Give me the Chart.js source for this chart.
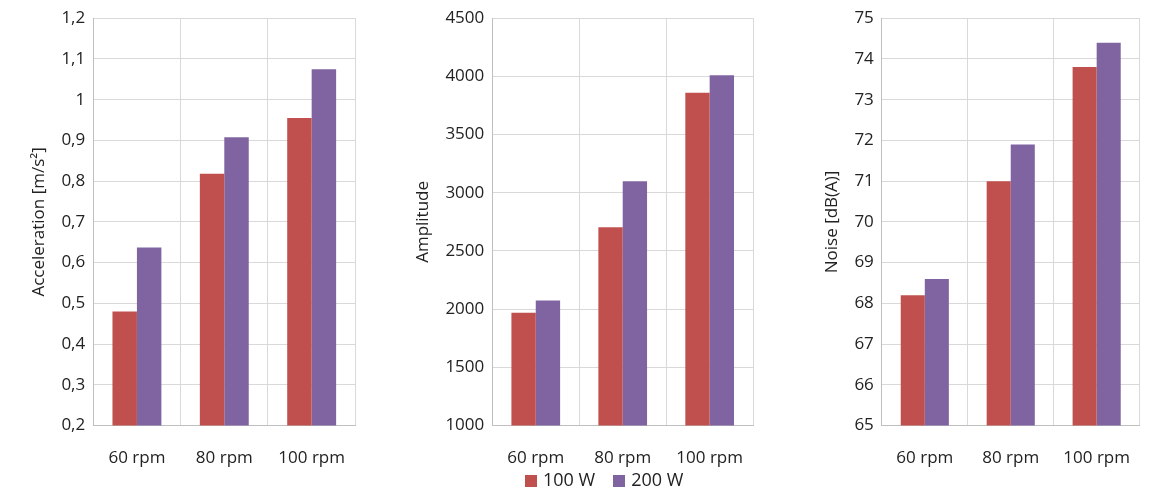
<!DOCTYPE html>
<html><head><meta charset="utf-8">
<script src="https://cdn.jsdelivr.net/npm/chart.js@4"></script>
<style>
body{margin:0;background:#fff;width:1153px;height:491px;position:relative;overflow:hidden;font-family:"Open Sans",sans-serif}
.c{position:absolute;top:0;height:490px}
#legend{position:absolute;top:467px;left:525px;font-size:18px;color:#222;display:flex;gap:18px}
#legend span i{display:inline-block;width:12px;height:12px;margin-right:6px;vertical-align:-1px}
</style></head><body>
<div class="c" style="left:25px;width:343px"><canvas id="c1"></canvas></div>
<div class="c" style="left:409px;width:357px"><canvas id="c2"></canvas></div>
<div class="c" style="left:818px;width:335px"><canvas id="c3"></canvas></div>
<div id="legend"><span><i style="background:#C0504D"></i>100 W</span><span><i style="background:#8064A2"></i>200 W</span></div>
<script>
const categories = ["60 rpm", "80 rpm", "100 rpm"];
const seriesNames = ["100 W", "200 W"];
const accel100 = [0.48, 0.818, 0.955];
const accel200 = [0.637, 0.908, 1.075];
const amp100 = [1970, 2705, 3860];
const amp200 = [2075, 3100, 4010];
const noise100 = [68.2, 71.0, 73.8];
const noise200 = [68.6, 71.9, 74.4];
const colors = ["#C0504D", "#8064A2"];

Chart.defaults.font.family = "'Open Sans', sans-serif";
Chart.defaults.font.size = 17;
Chart.defaults.color = "#222";

function make(id, a, b, title, min, max, step, fmt) {
  new Chart(document.getElementById(id), {
    type: "bar",
    data: {
      labels: categories,
      datasets: [a, b].map((d, i) => ({
        label: seriesNames[i], data: d, backgroundColor: colors[i],
        categoryPercentage: 0.56, barPercentage: 1
      }))
    },
    options: {
      responsive: true, maintainAspectRatio: false, animation: false,
      layout: { padding: { top: 12, right: 6 } },
      plugins: { legend: { display: false }, tooltip: { enabled: false } },
      scales: {
        x: { grid: { color: "#d9d9d9", offset: true, drawTicks: false },
             border: { color: "#bfbfbf" }, ticks: { padding: 22 } },
        y: { min: min, max: max,
             grid: { color: "#d9d9d9", drawTicks: false }, border: { color: "#bfbfbf" },
             ticks: { stepSize: step, padding: 8, callback: fmt },
             title: { display: true, text: title, font: { size: 17 } } }
      }
    }
  });
}
const comma = v => String(Math.round(v * 10) / 10).replace(".", ",");
make("c1", accel100, accel200, "Acceleration [m/s²]", 0.2, 1.2, 0.1, comma);
make("c2", amp100, amp200, "Amplitude", 1000, 4500, 500, v => v);
make("c3", noise100, noise200, "Noise [dB(A)]", 65, 75, 1, v => v);
</script>
</body></html>
